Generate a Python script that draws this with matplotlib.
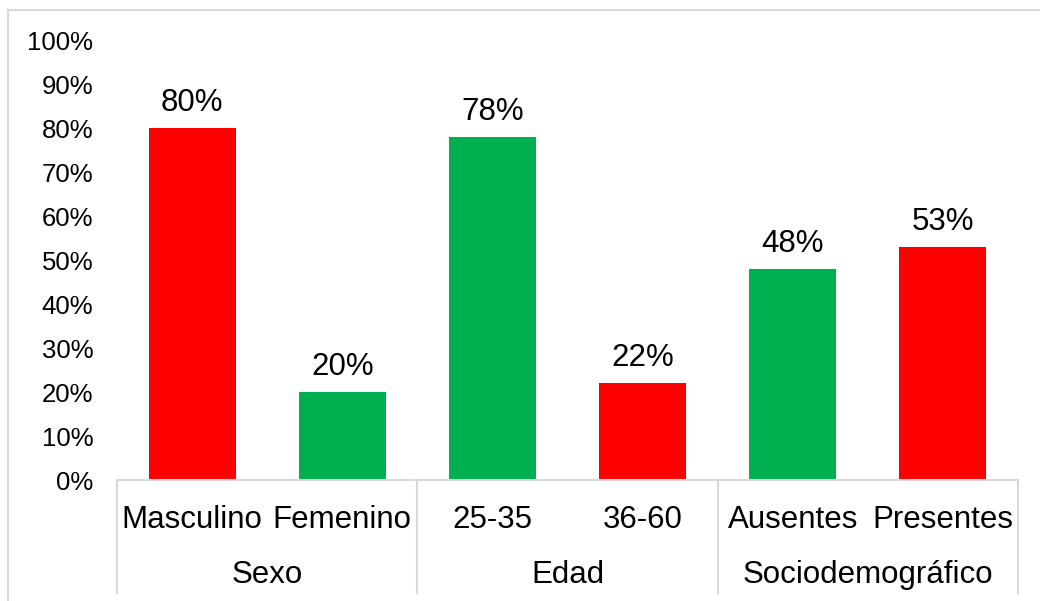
import matplotlib
matplotlib.use("Agg")
import matplotlib.pyplot as plt
from matplotlib.lines import Line2D
from matplotlib.ticker import PercentFormatter

# Data
categories = ["Masculino", "Femenino", "25-35", "36-60", "Ausentes", "Presentes"]
groups = ["Sexo", "Edad", "Sociodemográfico"]
group_sizes = [2, 2, 2]
values = [0.80, 0.20, 0.78, 0.22, 0.48, 0.53]
bar_colors = ["#FF0000", "#00B050", "#00B050", "#FF0000", "#00B050", "#FF0000"]

plt.rcParams["font.family"] = ["Liberation Sans", "DejaVu Sans"]
line_gray = "#D9D9D9"

fig = plt.figure(figsize=(10.4, 6.01), dpi=100)
ax = fig.add_axes([117 / 1040, 121 / 601, 901 / 1040, 440 / 601])

x = list(range(len(categories)))
bars = ax.bar(x, values, width=0.58, color=bar_colors, zorder=2)

# value labels above each bar
for rect, v in zip(bars, values):
    ax.annotate(f"{v:.0%}", (rect.get_x() + rect.get_width() / 2, v),
                xytext=(0, 7), textcoords="offset points",
                ha="center", va="bottom", fontsize=22.5)

ax.set_xlim(-0.5, len(categories) - 0.5)
ax.set_ylim(0, 1)
ax.set_yticks([i / 10 for i in range(11)])
ax.yaxis.set_major_formatter(PercentFormatter(1.0, decimals=0))
ax.tick_params(axis="y", length=0, pad=17, labelsize=18.5)
ax.set_xticks([])
for side in ["left", "right", "top", "bottom"]:
    ax.spines[side].set_visible(False)

# category axis: baseline, two label rows, group separators
trans = ax.get_xaxis_transform()
ax.plot([-0.5, len(categories) - 0.5], [0, 0], color=line_gray, lw=1.5,
        transform=trans, clip_on=False, zorder=3)
for xi, name in zip(x, categories):
    ax.text(xi, -0.091, name, transform=trans, ha="center", va="center",
            fontsize=22.5)

start = 0
edges = [-0.5]
for name, size in zip(groups, group_sizes):
    center = start + (size - 1) / 2
    ax.text(center, -0.217, name, transform=trans, ha="center", va="center",
            fontsize=22.5)
    start += size
    edges.append(start - 0.5)
for e in edges:
    ax.plot([e, e], [0, -0.257], color=line_gray, lw=1.5,
            transform=trans, clip_on=False)

# chart area border (runs off the right and bottom edges)
fig.add_artist(Line2D([8 / 1040, 1.01], [1 - 10 / 601, 1 - 10 / 601],
                      transform=fig.transFigure, color=line_gray, lw=1.5))
fig.add_artist(Line2D([8 / 1040, 8 / 1040], [1 - 10 / 601, -0.01],
                      transform=fig.transFigure, color=line_gray, lw=1.5))

fig.savefig("out.png", dpi=100)
